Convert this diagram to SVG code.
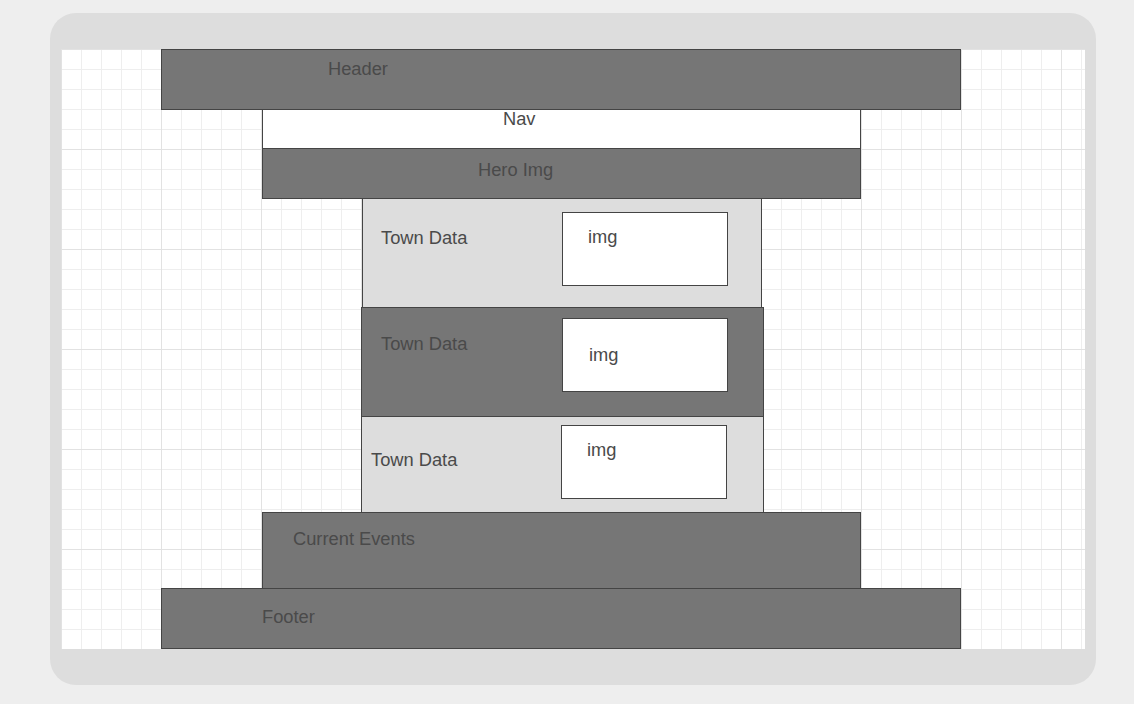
<svg xmlns="http://www.w3.org/2000/svg" width="1134" height="704" viewBox="0 0 1134 704">
  <style>
    .box { stroke: #444444; stroke-width: 1; }
    .dark { fill: #767676; }
    .light { fill: #dddddd; }
    .white { fill: #ffffff; }
    .lbl { font-family: "Liberation Sans", Arial, sans-serif; font-size: 18.3px; fill: #4a4a4a; }
  </style>
  <defs>
    <pattern id="grid" patternUnits="userSpaceOnUse" x="61" y="49" width="100" height="100">
      <rect width="100" height="100" fill="#ffffff"/>
      <path d="M20.5 0V100M40.5 0V100M60.5 0V100M80.5 0V100M0 20.5H100M0 40.5H100M0 60.5H100M0 80.5H100" stroke="#eeeeee" stroke-width="1"/>
      <path d="M0.5 0V100M0 0.5H100" stroke="#e2e2e2" stroke-width="1"/>
    </pattern>
  </defs>
  <rect width="1134" height="704" fill="#eeeeee"/>
  <rect x="50" y="13" width="1046" height="672" rx="26" ry="26" fill="#dddddd"/>
  <rect x="61" y="49" width="1024" height="600" fill="url(#grid)"/>
  <g id="connectors"/>
  <g id="header">
    <rect class="box dark" x="161.5" y="49.5" width="799" height="60"/>
    <text class="lbl" x="328" y="75">Header</text>
  </g>
  <g id="nav">
    <rect class="box white" x="262.5" y="109.5" width="598" height="39"/>
    <text class="lbl" x="503" y="125">Nav</text>
  </g>
  <g id="hero">
    <rect class="box dark" x="262.5" y="148.5" width="598" height="50"/>
    <text class="lbl" x="478" y="176">Hero Img</text>
  </g>
  <g id="town1">
    <rect class="box light" x="362.5" y="198.5" width="399" height="109"/>
    <text class="lbl" x="381" y="244">Town Data</text>
    <rect class="box white" x="562.5" y="212.5" width="165" height="73"/>
    <text class="lbl" x="588" y="243">img</text>
  </g>
  <g id="town2">
    <rect class="box dark" x="361.5" y="307.5" width="402" height="109"/>
    <text class="lbl" x="381" y="350">Town Data</text>
    <rect class="box white" x="562.5" y="318.5" width="165" height="73"/>
    <text class="lbl" x="589" y="361">img</text>
  </g>
  <g id="town3">
    <rect class="box light" x="361.5" y="416.5" width="402" height="96"/>
    <text class="lbl" x="371" y="466">Town Data</text>
    <rect class="box white" x="561.5" y="425.5" width="165" height="73"/>
    <text class="lbl" x="587" y="456">img</text>
  </g>
  <g id="current-events">
    <rect class="box dark" x="262.5" y="512.5" width="598" height="76"/>
    <text class="lbl" x="293" y="545">Current Events</text>
  </g>
  <g id="footer">
    <rect class="box dark" x="161.5" y="588.5" width="799" height="60"/>
    <text class="lbl" x="262" y="623">Footer</text>
  </g>
</svg>
